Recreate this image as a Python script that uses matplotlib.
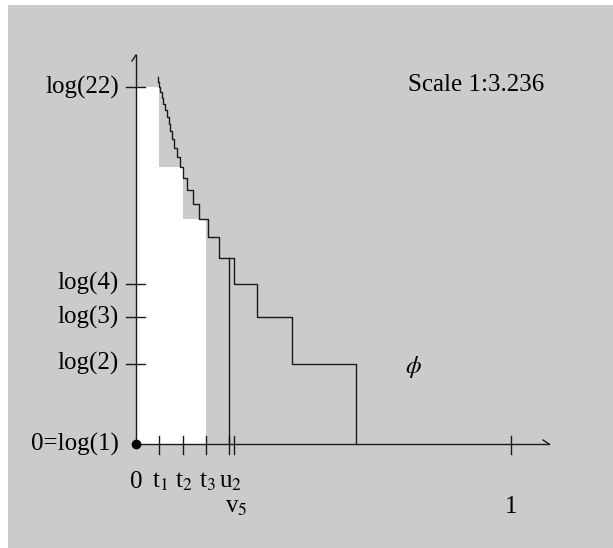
import numpy as np
import matplotlib.pyplot as plt
from matplotlib.patches import Rectangle

plt.rcParams['font.family'] = ['Liberation Serif', 'DejaVu Serif']
plt.rcParams['mathtext.fontset'] = 'stix'

# phi(x) = log(n): x where the level drops from log(n) to log(n-1)
step_n = np.arange(2, 25)
step_break = [0.586, 0.415, 0.322, 0.262, 0.221, 0.191, 0.169, 0.151, 0.137,
              0.125, 0.116, 0.108, 0.102, 0.096, 0.091, 0.087, 0.083, 0.077,
              0.072, 0.069, 0.065, 0.062, 0.0587]

# white lower bars on [0,t1], [t1,t2], [t2,t3]
bar_left = [0.0, 0.0625, 0.125]
bar_width = [0.0625, 0.0625, 0.0625]
bar_n = [22, 11, 7]

x_ticks = [0.0625, 0.125, 0.1875, 0.249, 0.262, 1.0]
x_labels = ['t$_1$', 't$_2$', 't$_3$', 'u$_2$', 'v$_5$', '1']
y_ticks_n = [2, 3, 4, 22]
y_labels = ['log(2)', 'log(3)', 'log(4)', 'log(22)']

u2 = 0.249
u2_top_n = 5

# pixel calibration of the drawing
W, H = 613, 548
ox, oy = 136, 444          # origin in pixels
sx, sy = 375.0, 115.5      # pixels per unit

fig = plt.figure(figsize=(W / 100, H / 100), dpi=100)
ax = fig.add_axes([0, 0, 1, 1])
ax.set_xlim(-ox / sx, (W - ox) / sx)
ax.set_ylim(-(H - oy) / sy, oy / sy)
ax.axis('off')

def px(x, y):
    return (x - ox) / sx, (oy - y) / sy

ax.add_patch(Rectangle((8 / W, 0), 1, (H - 5) / H, transform=ax.transAxes,
                       color='#cbcbcb', zorder=0, lw=0))

ax.bar(bar_left, np.log(bar_n), width=bar_width, align='edge',
       color='white', lw=0, zorder=1)

lc = '#1a1a1a'
lw = 1.0

# axes with small half arrows
x_end, _ = px(549, 0)
_, y_top = px(0, 55)
ax.plot([0, 0], [0, y_top], color=lc, lw=lw, zorder=3)
ax.plot([0, x_end], [0, 0], color=lc, lw=lw, zorder=3)
ax.plot([x_end - 6 / sx, x_end], [4 / sy, 0], color=lc, lw=lw, zorder=3)
ax.plot([-4 / sx, 0], [y_top - 6 / sy, y_top], color=lc, lw=lw, zorder=3)

# ticks
for xt in x_ticks:
    ax.plot([xt, xt], [-10 / sy, 8 / sy], color=lc, lw=lw, zorder=3)
for n in y_ticks_n:
    ax.plot([-10 / sx, 9 / sx], [np.log(n), np.log(n)], color=lc, lw=lw, zorder=3)

ax.plot([0], [0], 'o', color='black', ms=6, zorder=4)

# staircase phi
xs, ys = [], []
for n, b in zip(step_n[::-1], step_break[::-1]):
    xs += [b, b]
    ys += [np.log(n), np.log(n - 1)]
ax.plot(xs, ys, color=lc, lw=lw, zorder=3)

ax.plot([u2, u2], [0, np.log(u2_top_n)], color=lc, lw=lw, zorder=3)

fs = 18
# y labels
lx, _ = px(119, 0)
for n, lab in zip(y_ticks_n, y_labels):
    ax.text(lx, np.log(n), lab, ha='right', va='center', fontsize=fs)
ax.text(lx, 0, '0=log(1)', ha='right', va='center', fontsize=fs)

# x labels
_, base1 = px(0, 488)
_, base2 = px(0, 513)
ax.text(0, base1, '0', ha='center', va='baseline', fontsize=fs)
for xt, lab in zip(x_ticks, x_labels):
    if lab == 'v$_5$':
        ax.text(xt + 2 / sx, base2, lab, ha='center', va='baseline', fontsize=fs)
    elif lab == '1':
        ax.text(xt, base2, lab, ha='center', va='baseline', fontsize=fs)
    else:
        ax.text(xt + 1 / sx, base1, lab, ha='center', va='baseline', fontsize=fs)

ax.text(*px(413, 367), r'$\phi$', ha='center', va='center', fontsize=fs)
ax.text(*px(476, 85), 'Scale 1:3.236', ha='center', va='center', fontsize=fs)

fig.savefig('out.png', dpi=100)
